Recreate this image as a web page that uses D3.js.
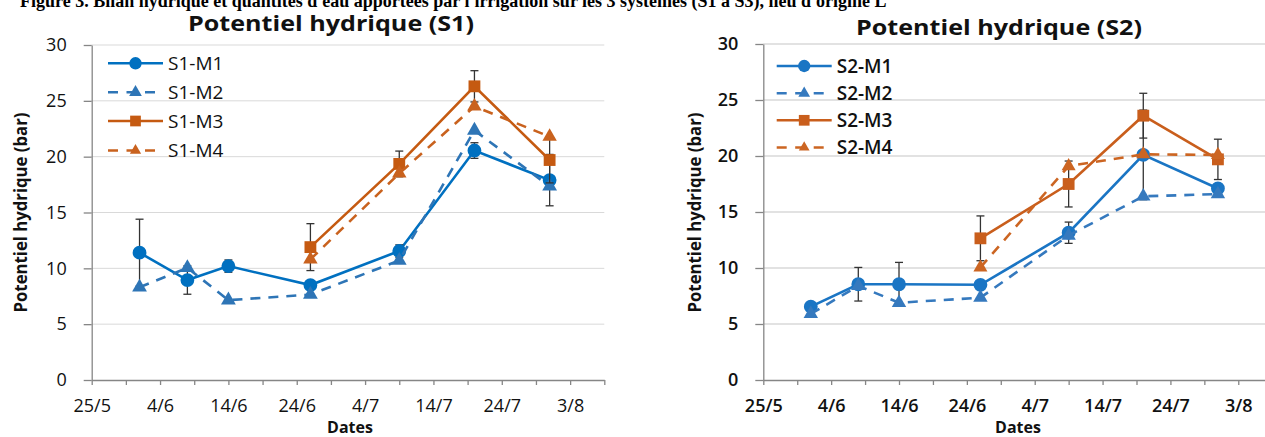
<!DOCTYPE html>
<html>
<head>
<meta charset="utf-8">
<script src="https://cdn.jsdelivr.net/npm/d3@7"></script>
<style>
  body { margin: 0; background: #fff; }
  svg { display: block; font-family: "Open Sans", sans-serif; }
</style>
</head>
<body>
<div id="chart"></div>
<script>
// sampling dates (day/month) shared by both systems
const sampleDates = ["1/6", "8/6", "14/6", "26/6", "9/7", "20/7", "31/7"];
const xTickLabels = ["25/5", "4/6", "14/6", "24/6", "4/7", "14/7", "24/7", "3/8"];
const xDomainLabels = ["25/5", "8/8"];
const yTicks = [0, 5, 10, 15, 20, 25, 30];

// S1 series (bar)
const s1m1 = [11.4, 8.95, 10.2, 8.5, 11.55, 20.55, 17.9];
const s1m1Err = [3.0, 1.27, 0.55, 0, 0.55, 0.7, 2.3];
const s1m2 = [8.3, 10.05, 7.15, 7.65, 10.7, 22.35, 17.35];
const s1m3 = [null, null, null, 11.9, 19.35, 26.3, 19.7];
const s1m3Err = [0, 0, 0, 2.1, 1.15, 1.4, 2.05];
const s1m4 = [null, null, null, 10.8, 18.5, 24.5, 21.8];

// S2 series (bar)
const s2m1 = [6.55, 8.55, 8.55, 8.5, 13.15, 20.1, 17.1];
const s2m1Err = [0, 1.5, 1.95, 0, 0.95, 4.0, 0.4];
const s2m2 = [5.9, 8.4, 6.9, 7.35, 12.9, 16.4, 16.6];
const s2m3 = [null, null, null, 12.65, 17.5, 23.6, 19.7];
const s2m3Err = [0, 0, 0, 2.0, 2.05, 2.0, 1.8];
const s2m4 = [null, null, null, 10.05, 19.1, 20.15, 20.1];

const width = 1265, height = 437;
const parseDay = s => d3.timeParse("%d/%m/%Y")(s + "/2015");
const fmt = d3.timeFormat("%-d/%-m");

const svg = d3.select('#chart')
              .append('svg')
              .attr('width', width)
              .attr('height', height);

// caption of the figure, cut by the top of the picture
svg.append('text')
   .attr('x', 20)
   .attr('y', 7)
   .style('font-family', '"Liberation Serif", serif')
   .style('font-weight', 'bold')
   .style('font-size', '18px')
   .text("Figure 3. Bilan hydrique et quantités d'eau apportées par l'irrigation sur les 3 systèmes (S1 à S3), lieu d'origine L");

const blue = '#0070C0', blue2 = '#2E75B6', orange = '#C55A11', orange2 = '#C9621E';

function panel(cfg) {
    const x = d3.scaleTime()
                .domain(xDomainLabels.map(parseDay))
                .range([cfg.left, cfg.right]);
    const y = d3.scaleLinear().domain([0, 30]).range([380, cfg.top]);

    const g = svg.append('g');
    const weight = cfg.weight;

    // gridlines
    g.selectAll('.grid')
     .data(yTicks.filter(d => d > 0))
     .enter()
     .append('line')
     .attr('x1', cfg.left).attr('x2', cfg.right)
     .attr('y1', d => y(d)).attr('y2', d => y(d))
     .style('stroke', '#d9d9d9')
     .style('stroke-width', cfg.gridW);

    // x axis: ticks every 5 days, labels every 10 days
    const labelDates = xTickLabels.map(parseDay);
    let allTicks = [];
    labelDates.forEach(d => { allTicks.push(d); allTicks.push(d3.timeDay.offset(d, 5)); });
    const labelSet = new Set(labelDates.map(d => +d));

    const xAxis = d3.axisBottom(x)
                    .tickValues(allTicks)
                    .tickSize(5)
                    .tickSizeOuter(0)
                    .tickPadding(14)
                    .tickFormat(d => labelSet.has(+d) ? fmt(d) : '');
    const xg = g.append('g')
                .attr('transform', 'translate(0,' + y(0) + ')')
                .call(xAxis);

    const yAxis = d3.axisLeft(y)
                    .tickValues(yTicks)
                    .tickSize(8)
                    .tickSizeOuter(0)
                    .tickPadding(17);
    const yg = g.append('g')
                .attr('transform', 'translate(' + cfg.left + ',0)')
                .call(yAxis);

    [xg, yg].forEach(a => {
        a.select('.domain').style('stroke', '#868686').style('stroke-width', 1.3);
        a.selectAll('.tick line').style('stroke', '#868686').style('stroke-width', 1.3);
        a.selectAll('.tick text')
         .style('font-family', '"Open Sans", sans-serif')
         .style('font-size', '18px')
         .style('font-weight', weight)
         .style('fill', '#111');
    });

    // titles
    g.append('text')
     .attr('x', cfg.titleX)
     .attr('y', cfg.titleY)
     .attr('text-anchor', 'middle')
     .attr('textLength', 286)
     .attr('lengthAdjust', 'spacingAndGlyphs')
     .style('font-weight', 'bold')
     .style('font-size', '21px')
     .style('fill', '#111')
     .text(cfg.title);

    g.append('text')
     .attr('transform', 'translate(' + cfg.yLabelX + ',212.5) rotate(-90)')
     .attr('text-anchor', 'middle')
     .attr('textLength', 200)
     .attr('lengthAdjust', 'spacingAndGlyphs')
     .style('font-weight', 'bold')
     .style('font-size', '17px')
     .style('fill', '#111')
     .text('Potentiel hydrique (bar)');

    g.append('text')
     .attr('x', cfg.datesX)
     .attr('y', 433)
     .attr('text-anchor', 'middle')
     .style('font-weight', 'bold')
     .style('font-size', '16px')
     .style('fill', '#111')
     .text('Dates');

    const dates = sampleDates.map(parseDay);

    cfg.series.forEach(s => {
        const pts = dates.map((d, i) => ({date: d, v: s.values[i], e: s.err ? s.err[i] : 0}))
                         .filter(p => p.v != null);

        const line = d3.line().x(p => x(p.date)).y(p => y(p.v));
        g.append('path')
         .datum(pts)
         .attr('d', line)
         .style('fill', 'none')
         .style('stroke', s.color)
         .style('stroke-width', 2.6)
         .style('stroke-dasharray', s.dash ? '10,8' : null);

        const bars = g.selectAll('.eb' + s.key)
                      .data(pts.filter(p => p.e > 0))
                      .enter()
                      .append('g');
        bars.append('line')
            .attr('x1', p => x(p.date)).attr('x2', p => x(p.date))
            .attr('y1', p => y(p.v - p.e)).attr('y2', p => y(p.v + p.e));
        bars.append('line')
            .attr('x1', p => x(p.date) - 4).attr('x2', p => x(p.date) + 4)
            .attr('y1', p => y(p.v + p.e)).attr('y2', p => y(p.v + p.e));
        bars.append('line')
            .attr('x1', p => x(p.date) - 4).attr('x2', p => x(p.date) + 4)
            .attr('y1', p => y(p.v - p.e)).attr('y2', p => y(p.v - p.e));
        bars.selectAll('line').style('stroke', '#333').style('stroke-width', 1.3);

        g.selectAll('.mk' + s.key)
         .data(pts)
         .enter()
         .append('path')
         .attr('transform', p => 'translate(' + x(p.date) + ',' + y(p.v) + ')')
         .attr('d', d3.symbol().type(s.symbol).size(s.size))
         .style('fill', s.color);
    });

    // legend
    const lg = g.append('g');
    cfg.series.forEach((s, i) => {
        const ly = cfg.legendY[i];
        lg.append('line')
          .attr('x1', cfg.legendX).attr('x2', cfg.legendX + 55)
          .attr('y1', ly).attr('y2', ly)
          .style('stroke', s.color)
          .style('stroke-width', 2.6)
          .style('stroke-dasharray', s.dash ? '10,8.5' : null);
        lg.append('path')
          .attr('transform', 'translate(' + (cfg.legendX + 27.5) + ',' + ly + ')')
          .attr('d', d3.symbol().type(s.symbol).size(s.legendSize))
          .style('fill', s.color);
        lg.append('text')
          .attr('x', cfg.legendX + 60)
          .attr('y', ly)
          .attr('dy', '0.36em')
          .style('font-size', '19px')
          .style('font-weight', weight)
          .style('fill', '#111')
          .text(s.name);
    });
}

panel({
    title: 'Potentiel hydrique (S1)', titleX: 331, titleY: 31,
    left: 91.7, right: 604.3, top: 45, yLabelX: 27, datesX: 350,
    legendX: 108, legendY: [63.3, 92.3, 121, 150.5], weight: 'normal', gridW: 1,
    series: [
        {key: 'a', name: 'S1-M1', values: s1m1, err: s1m1Err, color: blue, dash: false, symbol: d3.symbolCircle, size: 150, legendSize: 120},
        {key: 'b', name: 'S1-M2', values: s1m2, err: null, color: blue2, dash: true, symbol: d3.symbolTriangle, size: 95, legendSize: 70},
        {key: 'c', name: 'S1-M3', values: s1m3, err: s1m3Err, color: orange, dash: false, symbol: d3.symbolSquare, size: 140, legendSize: 115},
        {key: 'd', name: 'S1-M4', values: s1m4, err: null, color: orange2, dash: true, symbol: d3.symbolTriangle, size: 90, legendSize: 55}
    ]
});

panel({
    title: 'Potentiel hydrique (S2)', titleX: 999, titleY: 35,
    left: 763.3, right: 1272.2, top: 44, yLabelX: 701, datesX: 1018,
    legendX: 776.7, legendY: [66, 93.3, 120.3, 147.5], weight: 600, gridW: 1.6,
    series: [
        {key: 'a', name: 'S2-M1', values: s2m1, err: s2m1Err, color: '#1A75C4', dash: false, symbol: d3.symbolCircle, size: 150, legendSize: 120},
        {key: 'b', name: 'S2-M2', values: s2m2, err: null, color: '#3579BE', dash: true, symbol: d3.symbolTriangle, size: 90, legendSize: 60},
        {key: 'c', name: 'S2-M3', values: s2m3, err: s2m3Err, color: '#C95E1C', dash: false, symbol: d3.symbolSquare, size: 140, legendSize: 115},
        {key: 'd', name: 'S2-M4', values: s2m4, err: null, color: '#CC6522', dash: true, symbol: d3.symbolTriangle, size: 85, legendSize: 50}
    ]
});
</script>
</body>
</html>
